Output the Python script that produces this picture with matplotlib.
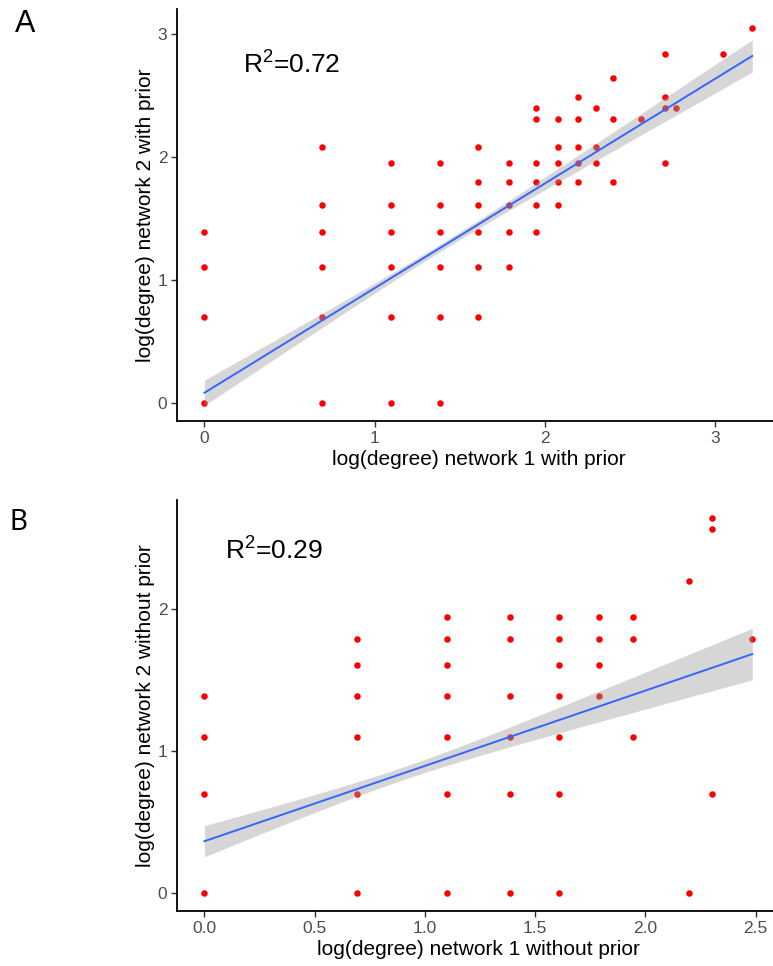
import matplotlib
matplotlib.use("Agg")
import matplotlib.pyplot as plt
import numpy as np

plt.rcParams['font.family'] = ['Liberation Sans', 'DejaVu Sans']
plt.rcParams['mathtext.fontset'] = 'custom'
plt.rcParams['mathtext.rm'] = 'Liberation Sans'

# panel A: log(degree), with prior
a_x = [0, 0, 0, 0,
       0.693, 0.693, 0.693, 0.693, 0.693, 0.693,
       1.099, 1.099, 1.099, 1.099, 1.099, 1.099,
       1.386, 1.386, 1.386, 1.386, 1.386, 1.386,
       1.609, 1.609, 1.609, 1.609, 1.609, 1.609,
       1.792, 1.792, 1.792, 1.792, 1.792,
       1.946, 1.946, 1.946, 1.946, 1.946, 1.946,
       2.079, 2.079, 2.079, 2.079, 2.079,
       2.197, 2.197, 2.197, 2.197, 2.197,
       2.303, 2.303, 2.303,
       2.398, 2.398, 2.398,
       2.565,
       2.708, 2.708, 2.708, 2.708,
       2.773,
       3.045,
       3.219]
a_y = [0, 0.693, 1.099, 1.386,
       0, 0.693, 1.099, 1.386, 1.609, 2.079,
       0, 0.693, 1.099, 1.386, 1.609, 1.946,
       0, 0.693, 1.099, 1.386, 1.609, 1.946,
       0.693, 1.099, 1.386, 1.609, 1.792, 2.079,
       1.099, 1.386, 1.609, 1.792, 1.946,
       1.386, 1.609, 1.792, 1.946, 2.303, 2.398,
       1.609, 1.792, 1.946, 2.079, 2.303,
       1.792, 1.946, 2.079, 2.303, 2.485,
       1.946, 2.079, 2.398,
       1.792, 2.303, 2.639,
       2.303,
       1.946, 2.398, 2.485, 2.833,
       2.398,
       2.833,
       3.045]

# panel B: log(degree), without prior
b_x = [0, 0, 0, 0,
       0.693, 0.693, 0.693, 0.693, 0.693, 0.693,
       1.099, 1.099, 1.099, 1.099, 1.099, 1.099, 1.099,
       1.386, 1.386, 1.386, 1.386, 1.386, 1.386,
       1.609, 1.609, 1.609, 1.609, 1.609, 1.609, 1.609,
       1.792, 1.792, 1.792, 1.792,
       1.946, 1.946, 1.946,
       2.197, 2.197,
       2.303, 2.303, 2.303,
       2.485]
b_y = [0, 0.693, 1.099, 1.386,
       0, 0.693, 1.099, 1.386, 1.609, 1.792,
       0, 0.693, 1.099, 1.386, 1.609, 1.792, 1.946,
       0, 0.693, 1.099, 1.386, 1.792, 1.946,
       0, 0.693, 1.099, 1.386, 1.609, 1.792, 1.946,
       1.386, 1.609, 1.792, 1.946,
       1.099, 1.792, 1.946,
       0, 2.197,
       0.693, 2.565, 2.639,
       1.792]

# fitted line (intercept, slope) and ci band (xbar, min half width, spread)
a_fit = (0.08, 0.851)
a_band = (1.4, 0.03, 0.07)
b_fit = (0.363, 0.531)
b_band = (0.9, 0.045, 0.111)

a_r2 = 0.72
b_r2 = 0.29


def draw_panel(ax, xs, ys, fit, band, r2, r2_pos, xlab, ylab, xticks, xticklabels, yticks):
    xs = np.array(xs)
    ys = np.array(ys)
    ax.scatter(xs, ys, s=22, color='#FF0000', linewidths=0, zorder=2)

    xx = np.linspace(xs.min(), xs.max(), 100)
    yy = fit[0] + fit[1] * xx
    half = np.sqrt(band[1] ** 2 + band[2] ** 2 * (xx - band[0]) ** 2)
    ax.fill_between(xx, yy - half, yy + half, color='#999999', alpha=0.4, linewidth=0, zorder=3)
    ax.plot(xx, yy, color='#3366FF', linewidth=1.4, zorder=4)

    # ggplot style 5% expansion
    xr = xs.max() - xs.min()
    yr = ys.max() - ys.min()
    ax.set_xlim(xs.min() - 0.05 * xr, xs.max() + 0.05 * xr)
    ax.set_ylim(ys.min() - 0.05 * yr, ys.max() + 0.05 * yr)

    ax.text(r2_pos[0], r2_pos[1], r'R$^{\mathrm{2}}$=' + '{:.2f}'.format(r2),
            fontsize=19, ha='left', va='baseline', color='black')

    for s in ['top', 'right']:
        ax.spines[s].set_visible(False)
    for s in ['left', 'bottom']:
        ax.spines[s].set_linewidth(1.3)
        ax.spines[s].set_color('black')

    ax.set_xticks(xticks)
    ax.set_xticklabels(xticklabels)
    ax.set_yticks(yticks)
    ax.tick_params(length=4, width=1, color='#333333', labelcolor='#4D4D4D',
                   labelsize=12.5, pad=3)
    ax.set_xlabel(xlab, fontsize=15, labelpad=3)
    ax.set_ylabel(ylab, fontsize=15, labelpad=2)


fig = plt.figure(figsize=(7.73, 9.66), dpi=100)

ax1 = fig.add_axes([0.229, 0.5638, 0.7796, 0.4264])
draw_panel(ax1, a_x, a_y, a_fit, a_band, a_r2, (0.229, 2.68),
           'log(degree) network 1 with prior', 'log(degree) network 2 with prior',
           [0, 1, 2, 3], ['0', '1', '2', '3'], [0, 1, 2, 3])

ax2 = fig.add_axes([0.229, 0.0565, 0.7796, 0.4262])
draw_panel(ax2, b_x, b_y, b_fit, b_band, b_r2, (0.093, 2.358),
           'log(degree) network 1 without prior', 'log(degree) network 2 without prior',
           [0, 0.5, 1.0, 1.5, 2.0, 2.5], ['0.0', '0.5', '1.0', '1.5', '2.0', '2.5'], [0, 1, 2])

fig.text(25 / 773, 1 - 24 / 966, 'A', fontsize=22, ha='center', va='center')
fig.text(18 / 773, 1 - 522 / 966, 'B', fontsize=20, ha='center', va='center',
         family=['Lato', 'DejaVu Sans'])

fig.savefig('out.png', dpi=100)
